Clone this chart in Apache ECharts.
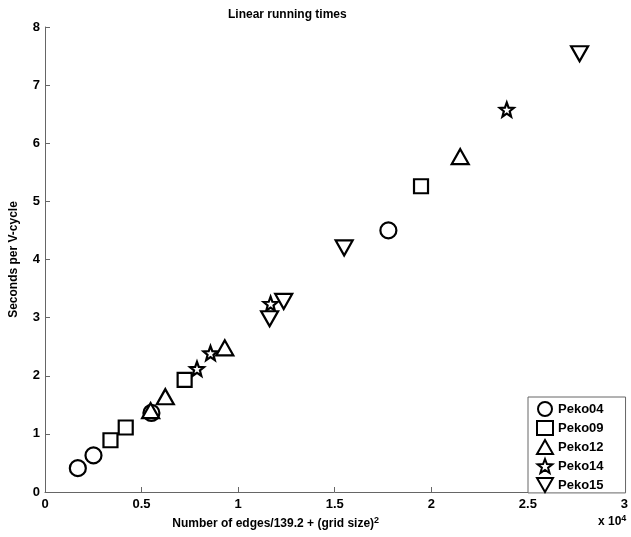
<!DOCTYPE html>
<html>
<head>
<meta charset="utf-8">
<title>Linear running times</title>
<script src="https://cdn.jsdelivr.net/npm/echarts@6/dist/echarts.min.js"></script>
</head>
<body style="margin:0;background:#fff;">
<div id="main" style="width:631px;height:537px;"></div>
<script>
// values (x = edges/139.2 + grid size^2, y = seconds per V-cycle)
var names = ['Peko04', 'Peko09', 'Peko12', 'Peko14', 'Peko15'];
var peko04 = [[1700, 0.41], [2510, 0.63], [5510, 1.36], [17780, 4.50]];
var peko09 = [[3390, 0.89], [4180, 1.11], [7230, 1.93], [19470, 5.26]];
var peko12 = [[5470, 1.40], [6230, 1.64], [9310, 2.48], [21500, 5.77]];
var peko14 = [[7870, 2.12], [8570, 2.39], [11680, 3.24], [23910, 6.58]];
var peko15 = [[11630, 2.98], [12360, 3.28], [15490, 4.20], [27680, 7.54]];

var starPath = 'path://M50,0 L62.34,33.01 L97.55,34.55 L69.97,56.49 L79.39,90.45 L50,71 L20.61,90.45 L30.03,56.49 L2.45,34.55 L37.66,33.01 Z';
var downTri = 'path://M0,0 L100,0 L50,87 Z';

var font = '"Liberation Sans", Arial, sans-serif';
var markStyle = { color: '#fff', borderColor: '#000', borderWidth: 2.2, opacity: 1 };

function mk(name, data, symbol, size) {
    return {
        name: name,
        type: 'scatter',
        data: data,
        symbol: symbol,
        symbolSize: size,
        itemStyle: markStyle,
        emphasis: { disabled: true }
    };
}

var chart = echarts.init(document.getElementById('main'));
chart.setOption({
    backgroundColor: '#fff',
    animation: false,
    title: {
        text: 'Linear running times',
        left: 223,
        top: 4,
        textStyle: { fontFamily: font, fontSize: 12, fontWeight: 'bold', color: '#000' }
    },
    legend: {
        data: names,
        orient: 'vertical',
        left: 528,
        top: 397,
        padding: [4, 22, 0, 8],
        itemGap: 3,
        itemWidth: 16,
        itemHeight: 14,
        borderColor: '#666',
        borderWidth: 1,
        backgroundColor: '#fff',
        itemStyle: { opacity: 1 },
        textStyle: { fontFamily: font, fontSize: 13, fontWeight: 'bold', color: '#000' }
    },
    grid: { left: 43, top: 27, width: 590, height: 465 },
    xAxis: {
        type: 'value',
        min: 0,
        max: 30000,
        interval: 5000,
        name: 'Number of edges/139.2 + (grid size){sup|2}',
        nameLocation: 'middle',
        nameGap: 24,
        nameTextStyle: {
            fontFamily: font, fontSize: 12, fontWeight: 'bold', color: '#000',
            padding: [0, 118, 0, 0],
            rich: { sup: { fontFamily: font, fontSize: 9, fontWeight: 'bold', color: '#000', verticalAlign: 'top', padding: [0, 0, 7, 0] } }
        },
        axisLine: { lineStyle: { color: '#666', width: 1 } },
        axisTick: { inside: true, length: 5, lineStyle: { color: '#666' } },
        splitLine: { show: false },
        axisLabel: {
            fontFamily: font, fontSize: 13, fontWeight: 'bold', color: '#000', margin: 6,
            formatter: function (v) { return String(v / 10000); }
        }
    },
    yAxis: {
        type: 'value',
        min: 0,
        max: 8,
        interval: 1,
        name: 'Seconds per V-cycle',
        nameLocation: 'middle',
        nameGap: 25,
        nameTextStyle: { fontFamily: font, fontSize: 12, fontWeight: 'bold', color: '#000' },
        axisLine: { lineStyle: { color: '#666', width: 1 } },
        axisTick: { inside: true, length: 5, lineStyle: { color: '#666' } },
        splitLine: { show: false },
        axisLabel: { fontFamily: font, fontSize: 13, fontWeight: 'bold', color: '#000', margin: 5 }
    },
    graphic: [{
        type: 'text',
        left: 598,
        top: 514,
        style: {
            text: 'x 10{sup|4}',
            font: 'bold 12px ' + font,
            fill: '#000',
            rich: { sup: { font: 'bold 9px ' + font, fill: '#000', verticalAlign: 'top', padding: [0, 0, 7, 0] } }
        }
    }],
    series: [
        mk('Peko04', peko04, 'circle', 16),
        mk('Peko09', peko09, 'rect', 14),
        mk('Peko12', peko12, 'triangle', [17, 15]),
        mk('Peko14', peko14, starPath, 14),
        mk('Peko15', peko15, downTri, [17, 15])
    ]
});
</script>
</body>
</html>
